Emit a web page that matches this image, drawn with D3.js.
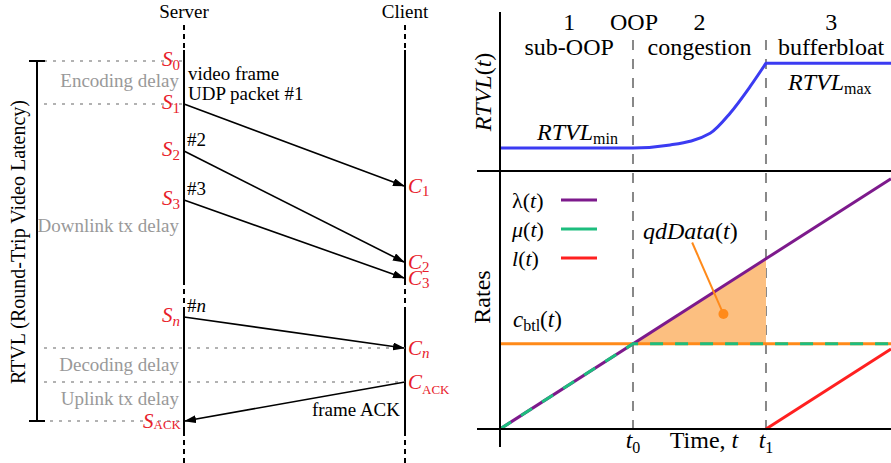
<!DOCTYPE html>
<html>
<head>
<meta charset="utf-8">
<script src="https://cdn.jsdelivr.net/npm/d3@7"></script>
<style>
  body { margin: 0; background: #fff; }
  svg { display: block; font-family: "Liberation Serif", "Times New Roman", serif; }
</style>
</head>
<body>
<svg id="chart" width="891" height="463"></svg>
<script>
// ---- left panel: frame timeline (time units, 0 = S0) ----
const sendLabels = ['0', '1', '2', '3', 'n', 'ACK'];
const sendTimes = [0, 43, 90, 139, 256, 360];
const recvLabels = ['1', '2', '3', 'n', 'ACK'];
const recvTimes = [125, 201, 217, 287, 321];
const packetTags = ['#2', '#3', '#n'];
const delayLabels = ['Encoding delay', 'Downlink tx delay', 'Decoding delay', 'Uplink tx delay'];
const delayBounds = [0, 43, 287, 321, 360];

// ---- right panel: RTVL and rates over time ----
const phaseNums = ['1', '2', '3'];
const phaseNames = ['sub-OOP', 'congestion', 'bufferbloat'];
const t0 = 1, t1 = 2, tEnd = 2.94;
const rtvlT = [0, 1, 1.28, 1.58, 1.73, 1.88, 2, 2.94];
const rtvlV = [1, 1, 1.13, 1.64, 2.51, 3.66, 4.68, 4.68];
const lambdaT = [0, 2.94];
const lambdaV = [0, 2.94];
const muT = [0, 1, 2.94];
const muV = [0, 1, 1];
const lossT = [2, 2.94];
const lossV = [0, 0.94];
const cbtl = 1;
const legendNames = ['λ', 'μ', 'l'];

const colors = {
  red: '#e8202a', gray: '#999', purple: '#7d1a8c', green: '#1dbd7e',
  loss: '#ff2020', orange: '#ff8a1a', fill: '#fcbf80', blue: '#3b3bf2'
};

const svg = d3.select('#chart');

// helper: italic main symbol + small subscript
function subLabel(g, x, y, main, sub, opts) {
  opts = opts || {};
  var t = g.append('text')
    .attr('x', x).attr('y', y)
    .attr('text-anchor', opts.anchor || 'start')
    .style('fill', opts.color || '#000')
    .style('font-size', (opts.size || 20) + 'px');
  t.append('tspan').style('font-style', 'italic').text(main);
  t.append('tspan')
    .attr('dy', opts.dy || 5)
    .style('font-size', (opts.subSize || 14) + 'px')
    .style('font-style', opts.subItalic ? 'italic' : 'normal')
    .text(sub);
  return t;
}

// italic symbol followed by (t)
function fnLabel(t, name, italic) {
  t.append('tspan').style('font-style', italic === false ? 'normal' : 'italic').text(name);
  t.append('tspan').text('(');
  t.append('tspan').style('font-style', 'italic').text('t');
  t.append('tspan').text(')');
}

// ================= LEFT PANEL =================
var left = svg.append('g');
var yL = d3.scaleLinear().domain([0, 360]).range([61, 421]);
var xServer = 184, xClient = 405;
var fsL = 19;

svg.append('defs').append('marker')
  .attr('id', 'arrow')
  .attr('markerUnits', 'userSpaceOnUse')
  .attr('markerWidth', 12).attr('markerHeight', 8)
  .attr('refX', 11).attr('refY', 4)
  .attr('orient', 'auto')
  .append('path').attr('d', 'M0,0 L12,4 L0,8 z').style('fill', '#000');

// header labels
[['Server', xServer], ['Client', xClient]].forEach(function (d) {
  left.append('text').attr('x', d[1]).attr('y', 18)
    .attr('text-anchor', 'middle').style('font-size', fsL + 'px').text(d[0]);
});

// lifelines: dashed / solid segments
var segs = [[25, 50, true], [50, 280, false], [280, 312, true], [312, 431, false], [431, 463, true]];
[xServer, xClient].forEach(function (x) {
  segs.forEach(function (s) {
    left.append('line')
      .attr('x1', x).attr('x2', x).attr('y1', s[0]).attr('y2', s[1])
      .style('stroke', '#000').style('stroke-width', 2)
      .style('stroke-dasharray', s[2] ? '5,4' : null);
  });
});

// gray dotted guide lines
delayBounds.forEach(function (t, i) {
  var toClient = (i === 2 || i === 3);
  left.append('line')
    .attr('x1', i === 4 ? 32 : 44).attr('x2', toClient ? xClient : xServer)
    .attr('y1', yL(t)).attr('y2', yL(t))
    .style('stroke', colors.gray).style('stroke-width', 1.5)
    .style('stroke-dasharray', '3,6');
});

// bracket
left.append('line').attr('x1', 37).attr('x2', 37).attr('y1', yL(0)).attr('y2', yL(360))
  .style('stroke', '#000').style('stroke-width', 2);
[0, 360].forEach(function (t) {
  left.append('line').attr('x1', 29).attr('x2', 45).attr('y1', yL(t)).attr('y2', yL(t))
    .style('stroke', '#000').style('stroke-width', 2);
});
left.append('text')
  .attr('transform', 'translate(25,' + yL(181) + ') rotate(-90)')
  .attr('text-anchor', 'middle').style('font-size', '20px')
  .text('RTVL (Round-Trip Video Latency)');

// delay labels
var delayShift = [4, 6, 6, 3];
delayLabels.forEach(function (d, i) {
  var mid = (delayBounds[i] + delayBounds[i + 1]) / 2;
  left.append('text').attr('x', 179).attr('y', yL(mid) + delayShift[i])
    .attr('text-anchor', 'end').style('fill', colors.gray).style('font-size', fsL + 'px').text(d);
});

// packet arrows
for (var i = 0; i < 4; i++) {
  left.append('line')
    .attr('x1', xServer).attr('y1', yL(sendTimes[i + 1]))
    .attr('x2', xClient - 1).attr('y2', yL(recvTimes[i]))
    .style('stroke', '#000').style('stroke-width', 1.6)
    .attr('marker-end', 'url(#arrow)');
}
// ack arrow
left.append('line')
  .attr('x1', xClient).attr('y1', yL(recvTimes[4]))
  .attr('x2', xServer + 1).attr('y2', yL(sendTimes[5]))
  .style('stroke', '#000').style('stroke-width', 1.6)
  .attr('marker-end', 'url(#arrow)');

// server / client red labels
sendLabels.forEach(function (d, i) {
  var ack = d === 'ACK';
  subLabel(left, ack ? 181 : 180, yL(sendTimes[i]) + (ack ? 7 : 5), 'S', d, {
    anchor: 'end', color: colors.red, size: 21, subSize: ack ? 13 : 15,
    subItalic: d === 'n', dy: ack ? 1 : 4
  });
});
recvLabels.forEach(function (d, i) {
  var ack = d === 'ACK';
  subLabel(left, 408, yL(recvTimes[i]) + 7, 'C', d, {
    color: colors.red, size: 21, subSize: ack ? 13 : 15,
    subItalic: d === 'n', dy: ack ? 0 : 3
  });
});

// black annotations
left.append('text').attr('x', 188).attr('y', 80).style('font-size', fsL + 'px').text('video frame');
left.append('text').attr('x', 188).attr('y', 100).style('font-size', fsL + 'px').text('UDP packet #1');
packetTags.forEach(function (d, i) {
  var t = left.append('text').attr('x', 187).attr('y', yL(sendTimes[i + 2]) - 5).style('font-size', fsL + 'px');
  t.append('tspan').text('#');
  t.append('tspan').style('font-style', d === '#n' ? 'italic' : 'normal').text(d.slice(1));
});
left.append('text').attr('x', 400).attr('y', 416).attr('text-anchor', 'end')
  .style('font-size', fsL + 'px').text('frame ACK');

// ================= RIGHT PANEL =================
var right = svg.append('g');
var xR = d3.scaleLinear().domain([0, tEnd]).range([500, 891]);
var yRt = d3.scaleLinear().domain([0, 6.9]).range([171, 12]);
var yRate = d3.scaleLinear().domain([0, 3.03]).range([429, 171]);
var fsR = 24;

// phase separators
[t0, t1].forEach(function (t) {
  right.append('line').attr('x1', xR(t)).attr('x2', xR(t)).attr('y1', 40).attr('y2', 429)
    .style('stroke', '#888').style('stroke-width', 2).style('stroke-dasharray', '10,9');
});

// phase headings
var phaseCenters = [0.52, 1.50, 2.49];
phaseNums.forEach(function (d, i) {
  right.append('text').attr('x', xR(phaseCenters[i])).attr('y', 30)
    .attr('text-anchor', 'middle').style('font-size', fsR + 'px').text(d);
  right.append('text').attr('x', xR(phaseCenters[i])).attr('y', 55)
    .attr('text-anchor', 'middle').style('font-size', fsR + 'px').text(phaseNames[i]);
});
right.append('text').attr('x', xR(t0) + 1).attr('y', 30)
  .attr('text-anchor', 'middle').style('font-size', fsR + 'px').text('OOP');

// RTVL curve: smooth rise up to t1, then flat at the max
var rtvlLine = d3.line().x(function (d) { return xR(d[0]); }).y(function (d) { return yRt(d[1]); });
var rtvlPts = d3.zip(rtvlT, rtvlV);
var riseEnd = rtvlT.indexOf(t1);
right.append('path')
  .attr('d', rtvlLine.curve(d3.curveMonotoneX)(rtvlPts.slice(0, riseEnd + 1)) +
    rtvlLine.curve(d3.curveLinear)(rtvlPts.slice(riseEnd)).replace('M', 'L'))
  .style('fill', 'none').style('stroke', colors.blue).style('stroke-width', 3)
  .style('stroke-linejoin', 'round');

subLabel(right, 537, 140, 'RTVL', 'min', { size: fsR, subSize: 16, dy: 4 });
subLabel(right, 788, 90, 'RTVL', 'max', { size: fsR, subSize: 16, dy: 4 });
right.append('text')
  .attr('transform', 'translate(491,' + 92 + ') rotate(-90)')
  .attr('text-anchor', 'middle').style('font-size', fsR + 'px')
  .call(function (t) { fnLabel(t, 'RTVL'); });

// rates: fill for queued data
var lamAt = function (t) {
  return lambdaV[0] + (t - lambdaT[0]) * (lambdaV[1] - lambdaV[0]) / (lambdaT[1] - lambdaT[0]);
};
right.append('path')
  .datum([[t0, lamAt(t0)], [t1, lamAt(t1)]])
  .attr('d', d3.area().x(function (d) { return xR(d[0]); })
    .y0(yRate(cbtl)).y1(function (d) { return yRate(d[1]); }))
  .style('fill', colors.fill);

var rateLine = d3.line().x(function (d) { return xR(d[0]); }).y(function (d) { return yRate(d[1]); });

// c_btl
right.append('path').datum([[0, cbtl], [tEnd, cbtl]]).attr('d', rateLine)
  .style('stroke', colors.orange).style('stroke-width', 3).style('fill', 'none');
// lambda
right.append('path').datum(d3.zip(lambdaT, lambdaV)).attr('d', rateLine)
  .style('stroke', colors.purple).style('stroke-width', 3).style('fill', 'none');
// mu (dashed over lambda / c_btl)
right.append('path').datum(d3.zip(muT, muV)).attr('d', rateLine)
  .style('stroke', colors.green).style('stroke-width', 3).style('fill', 'none')
  .style('stroke-dasharray', '13,12');
// loss
right.append('path').datum(d3.zip(lossT, lossV)).attr('d', rateLine)
  .style('stroke', colors.loss).style('stroke-width', 3).style('fill', 'none');

// qdData annotation
var qdDot = [1.68, 1.35], qdTip = [1.445, 2.19];
right.append('line')
  .attr('x1', xR(qdTip[0])).attr('y1', yRate(qdTip[1]))
  .attr('x2', xR(qdDot[0])).attr('y2', yRate(qdDot[1]))
  .style('stroke', colors.orange).style('stroke-width', 2);
right.append('circle').attr('cx', xR(qdDot[0])).attr('cy', yRate(qdDot[1])).attr('r', 5)
  .style('fill', colors.orange);
right.append('text').attr('x', 643).attr('y', 239).style('font-size', fsR + 'px')
  .call(function (t) { fnLabel(t, 'qdData'); });

// legend
var legendColors = [colors.purple, colors.green, colors.loss];
legendNames.forEach(function (d, i) {
  var y = 200 + i * 29;
  var t = right.append('text').attr('x', 512).attr('y', y + 8).style('font-size', '22px');
  fnLabel(t, d, d !== 'λ');
  right.append('line').attr('x1', 561).attr('x2', 597).attr('y1', y).attr('y2', y)
    .style('stroke', legendColors[i]).style('stroke-width', 3);
});

// c_btl label
right.append('text').attr('x', 513).attr('y', 327).style('font-size', '23px')
  .call(function (t) {
    t.append('tspan').style('font-style', 'italic').text('c');
    t.append('tspan').attr('dy', 4).style('font-size', '16px').text('btl');
    t.append('tspan').attr('dy', -4).text('(');
    t.append('tspan').style('font-style', 'italic').text('t');
    t.append('tspan').text(')');
  });

right.append('text')
  .attr('transform', 'translate(490,' + 297 + ') rotate(-90)')
  .attr('text-anchor', 'middle').style('font-size', fsR + 'px').text('Rates');

// x labels
subLabel(right, xR(t0), 448, 't', '0', { anchor: 'middle', size: fsR, subSize: 16, dy: 5 });
subLabel(right, xR(t1), 448, 't', '1', { anchor: 'middle', size: fsR, subSize: 16, dy: 5 });
right.append('text').attr('x', 704).attr('y', 448).attr('text-anchor', 'middle')
  .style('font-size', fsR + 'px')
  .call(function (t) {
    t.append('tspan').text('Time, ');
    t.append('tspan').style('font-style', 'italic').text('t');
  });

// axes
right.append('line').attr('x1', xR(0)).attr('x2', xR(0)).attr('y1', 12).attr('y2', 447)
  .style('stroke', '#000').style('stroke-width', 2);
[yRt(0), yRate(0)].forEach(function (y) {
  right.append('line').attr('x1', 477).attr('x2', 891).attr('y1', y).attr('y2', y)
    .style('stroke', '#000').style('stroke-width', 2);
});
</script>
</body>
</html>
